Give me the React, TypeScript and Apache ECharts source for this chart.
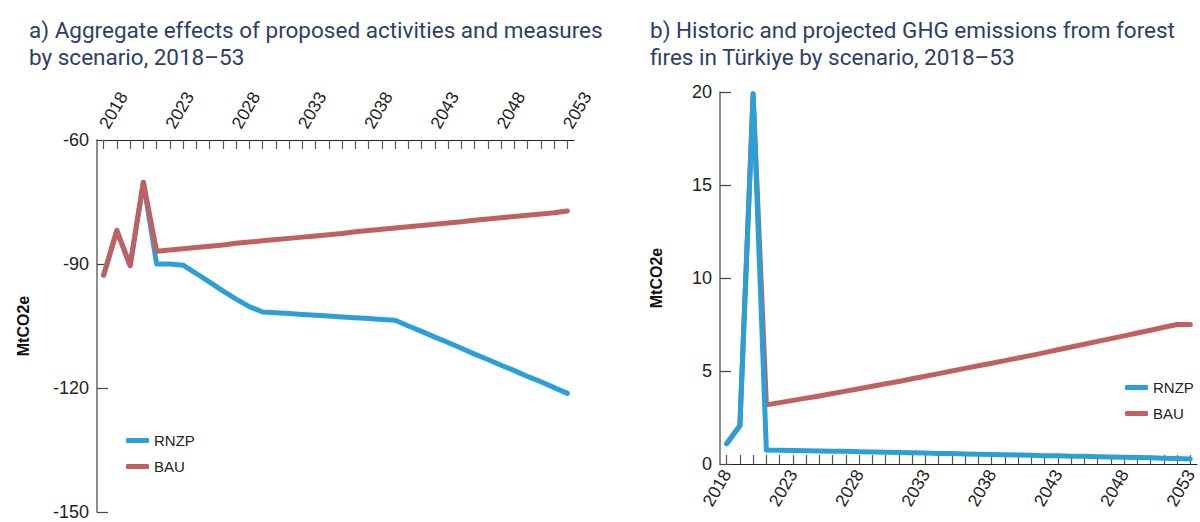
import React, { useEffect, useRef } from "react";
import * as echarts from "echarts";

const years: string[] = [
  "2018","2019","2020","2021","2022","2023","2024","2025","2026","2027","2028","2029",
  "2030","2031","2032","2033","2034","2035","2036","2037","2038","2039","2040","2041",
  "2042","2043","2044","2045","2046","2047","2048","2049","2050","2051","2052","2053",
];

// Panel a) aggregate effects (MtCO2e)
const aRNZP: number[] = [
  -92.7, -81.9, -90.4, -70.2, -90.0, -90.0, -90.3, -92.3, -94.4, -96.5, -98.5, -100.3,
  -101.6, -101.8, -102.0, -102.2, -102.4, -102.6, -102.8, -103.0, -103.2, -103.4, -103.6, -105.0,
  -106.3, -107.7, -109.0, -110.4, -111.8, -113.1, -114.5, -115.8, -117.2, -118.5, -119.9, -121.3,
];
const aBAU: number[] = [
  -92.7, -81.9, -90.4, -70.2, -86.9, -86.6, -86.3, -86.0, -85.7, -85.4, -85.0, -84.7,
  -84.4, -84.1, -83.8, -83.5, -83.2, -82.9, -82.6, -82.2, -81.9, -81.6, -81.3, -81.0,
  -80.7, -80.4, -80.1, -79.8, -79.4, -79.1, -78.8, -78.5, -78.2, -77.9, -77.6, -77.2,
];

// Panel b) forest fire emissions (MtCO2e)
const bRNZP: number[] = [
  1.09, 2.06, 19.9, 0.75, 0.74, 0.73, 0.71, 0.70, 0.69, 0.68, 0.66, 0.65,
  0.63, 0.62, 0.60, 0.59, 0.57, 0.56, 0.54, 0.53, 0.51, 0.50, 0.48, 0.47,
  0.45, 0.44, 0.42, 0.41, 0.39, 0.38, 0.36, 0.35, 0.33, 0.31, 0.29, 0.27,
];
const bBAU: number[] = [
  1.09, 2.06, 19.9, 3.18, 3.30, 3.42, 3.54, 3.66, 3.79, 3.92, 4.05, 4.18,
  4.31, 4.44, 4.58, 4.72, 4.86, 5.00, 5.14, 5.28, 5.42, 5.56, 5.70, 5.84,
  5.99, 6.14, 6.29, 6.44, 6.59, 6.74, 6.89, 7.04, 7.19, 7.35, 7.50, 7.50,
];

const titleA = "a) Aggregate effects of proposed activities and measures\nby scenario, 2018\u201353";
const titleB = "b) Historic and projected GHG emissions from forest\nfires in T\u00fcrkiye by scenario, 2018\u201353";
const yName = "MtCO2e";

const BLUE = "#2a9fd8";
const RED = "#c06060";
const NAVY = "#2c3e6b";
const FONT = "'Liberation Sans', Arial, sans-serif";
const TITLE_FONT = "Roboto, sans-serif";

export default function App() {
  const ref = useRef<HTMLDivElement>(null);
  useEffect(() => {
    if (!ref.current) return;
    const chart = echarts.init(ref.current, undefined, { renderer: "svg" });
    const xCommon = (gridIndex: number, position: "top" | "bottom", rotate: number, margin: number) => ({
      type: "category" as const,
      gridIndex,
      position,
      data: years,
      boundaryGap: true,
      axisLine: { lineStyle: { color: "#222", width: 1.2 } },
      axisTick: { show: true, inside: true, length: 9, interval: 0, alignWithLabel: true, lineStyle: { color: "#555", width: 1.2 } },
      axisLabel: { interval: 4, rotate, color: "#222", fontSize: 17.5, fontFamily: FONT, margin },
      splitLine: { show: false },
    });
    const yCommon = (gridIndex: number, min: number, max: number, interval: number, nameGap: number) => ({
      type: "value" as const,
      gridIndex,
      min,
      max,
      interval,
      name: yName,
      nameLocation: "middle" as const,
      nameGap,
      nameTextStyle: { fontWeight: "bold" as const, fontSize: 16, color: "#111", fontFamily: FONT },
      axisLine: { show: true, lineStyle: { color: "#666", width: 1.5 } },
      axisTick: { show: true, inside: true, length: 11, lineStyle: { color: "#444", width: 1.2 } },
      axisLabel: { color: "#222", fontSize: 18, fontFamily: FONT, margin: 8 },
      splitLine: { show: false },
    });
    const lineSeries = (name: string, data: number[], color: string, idx: number, z: number) => ({
      type: "line" as const,
      name,
      data,
      xAxisIndex: idx,
      yAxisIndex: idx,
      showSymbol: false,
      symbol: "none",
      z,
      lineStyle: { color, width: 5, cap: "round" as const, join: "round" as const },
      itemStyle: { color },
    });
    chart.setOption({
      animation: false,
      textStyle: { fontFamily: FONT },
      title: [
        { text: titleA, left: 24, top: 11, textStyle: { color: NAVY, fontSize: 22.5, fontWeight: "normal", lineHeight: 27, fontFamily: TITLE_FONT } },
        { text: titleB, left: 645, top: 11, textStyle: { color: NAVY, fontSize: 22.5, fontWeight: "normal", lineHeight: 27, fontFamily: TITLE_FONT } },
      ],
      legend: [
        {
          data: ["RNZP", "BAU"], orient: "vertical", left: 121, top: 428, itemWidth: 23, itemHeight: 5, itemGap: 11,
          icon: "roundRect", textStyle: { fontSize: 15, color: "#222", fontFamily: FONT },
        },
        {
          data: ["RNZP", "BAU"], orient: "vertical", left: 1120, top: 375, itemWidth: 23, itemHeight: 5, itemGap: 11,
          icon: "roundRect", textStyle: { fontSize: 15, color: "#222", fontFamily: FONT },
        },
      ],
      grid: [
        { left: 97, top: 140, width: 477, height: 372 },
        { left: 720, top: 92, width: 477, height: 372 },
      ],
      xAxis: [xCommon(0, "top", -60, 13), xCommon(1, "bottom", 60, 7)],
      yAxis: [yCommon(0, -150, -60, 30, 66), yCommon(1, 0, 20, 5, 56)],
      series: [
        lineSeries("RNZP", aRNZP, BLUE, 0, 2),
        lineSeries("BAU", aBAU, RED, 0, 3),
        lineSeries("BAU", bBAU, RED, 1, 2),
        lineSeries("RNZP", bRNZP, BLUE, 1, 3),
      ],
    });
    return () => chart.dispose();
  }, []);
  return <div ref={ref} style={{ position: "absolute", left: 0, top: 0, width: 1200, height: 522 }} />;
}
